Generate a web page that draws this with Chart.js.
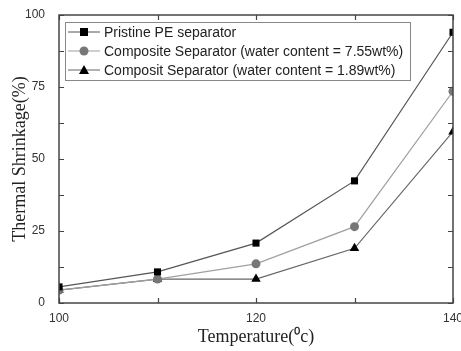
<!DOCTYPE html>
<html>
<head>
<meta charset="utf-8">
<script src="https://cdn.jsdelivr.net/npm/chart.js@4/dist/chart.umd.min.js"></script>
<style>
  html, body { margin: 0; padding: 0; background: #fff; }
  #wrap { width: 461px; height: 351px; }
</style>
</head>
<body>
<div id="wrap"><canvas id="shrink"></canvas></div>
<script>
const temps = [100, 110, 120, 130, 140];
const pristine = [5.6, 10.8, 20.8, 42.4, 94];
const comp755 = [4.5, 8.3, 13.6, 26.5, 73.5];
const comp189 = [4.5, 8.3, 8.3, 19.0, 59.5];
const xTickLabels = [100, 120, 140];
const yTickLabels = [0, 25, 50, 75, 100];

const toPts = arr => arr.map((v, i) => ({ x: temps[i], y: v }));

// ticks pointing into the plot, on all four sides
const innerTicks = {
  id: 'innerTicks',
  afterDraw(chart) {
    const { ctx, chartArea: a, scales: { x, y } } = chart;
    ctx.save();
    ctx.strokeStyle = '#444';
    ctx.lineWidth = 1.2;
    ctx.beginPath();
    temps.forEach(t => {
      const px = Math.round(x.getPixelForValue(t)) + 0.5;
      ctx.moveTo(px, a.bottom); ctx.lineTo(px, a.bottom - 5);
      ctx.moveTo(px, a.top); ctx.lineTo(px, a.top + 5);
    });
    for (let v = 0; v <= 100; v += 12.5) {
      const py = Math.round(y.getPixelForValue(v)) + 0.5;
      ctx.moveTo(a.left, py); ctx.lineTo(a.left + 5, py);
      ctx.moveTo(a.right, py); ctx.lineTo(a.right - 5, py);
    }
    ctx.stroke();
    ctx.lineWidth = 1.5;
    ctx.strokeRect(a.left, a.top, a.right - a.left, a.bottom - a.top);
    ctx.restore();
  }
};

// boxed legend inside the plot with line + marker samples
const boxLegend = {
  id: 'boxLegend',
  afterDraw(chart) {
    const { ctx, chartArea: a } = chart;
    const x0 = a.left + 6, y0 = a.top + 7;
    ctx.save();
    ctx.fillStyle = '#fff';
    ctx.fillRect(x0, y0, 345, 58);
    ctx.strokeStyle = '#888';
    ctx.lineWidth = 1;
    ctx.strokeRect(x0 + 0.5, y0 + 0.5, 345, 58);
    ctx.font = '14px "Liberation Sans", Arial, sans-serif';
    ctx.textBaseline = 'middle';
    chart.data.datasets.forEach((ds, i) => {
      const cy = y0 + 10 + i * 19;
      ctx.strokeStyle = ds.borderColor;
      ctx.lineWidth = 1;
      ctx.beginPath();
      ctx.moveTo(x0 + 3, cy); ctx.lineTo(x0 + 35, cy);
      ctx.stroke();
      ctx.fillStyle = ds.pointBackgroundColor;
      const cx = x0 + 19;
      ctx.beginPath();
      if (ds.pointStyle === 'rect') {
        ctx.rect(cx - 4, cy - 4, 8, 8);
      } else if (ds.pointStyle === 'circle') {
        ctx.arc(cx, cy, 4.5, 0, Math.PI * 2);
      } else {
        ctx.moveTo(cx, cy - 5); ctx.lineTo(cx + 5, cy + 4); ctx.lineTo(cx - 5, cy + 4);
        ctx.closePath();
      }
      ctx.fill();
      ctx.fillStyle = '#222';
      ctx.fillText(ds.label, x0 + 39, cy + 1);
    });
    ctx.restore();
  }
};

new Chart(document.querySelector('#shrink'), {
  type: 'line',
  data: {
    datasets: [
      {
        label: 'Pristine PE separator',
        data: toPts(pristine),
        borderColor: '#555',
        borderWidth: 1.2,
        pointStyle: 'rect',
        pointRadius: 5,
        pointBackgroundColor: '#000',
        pointBorderColor: '#000',
        pointBorderWidth: 0
      },
      {
        label: 'Composite Separator (water content = 7.55wt%)',
        data: toPts(comp755),
        borderColor: '#a0a0a0',
        borderWidth: 1.2,
        pointStyle: 'circle',
        pointRadius: 4.5,
        pointBackgroundColor: '#777',
        pointBorderColor: '#777',
        pointBorderWidth: 0
      },
      {
        label: 'Composit Separator (water content = 1.89wt%)',
        data: toPts(comp189),
        borderColor: '#666',
        borderWidth: 1.2,
        pointStyle: 'triangle',
        pointRadius: 5.5,
        pointBackgroundColor: '#000',
        pointBorderColor: '#000',
        pointBorderWidth: 0
      }
    ]
  },
  options: {
    responsive: true,
    maintainAspectRatio: false,
    animation: false,
    layout: { padding: { left: 0, top: 15, right: 8, bottom: 0 } },
    plugins: {
      legend: { display: false },
      tooltip: { enabled: false }
    },
    scales: {
      x: {
        type: 'linear',
        min: 100,
        max: 140,
        afterBuildTicks: s => { s.ticks = xTickLabels.map(v => ({ value: v })); },
        afterFit: s => { s.height = 48; s.paddingLeft = 0; s.paddingRight = 0; },
        grid: { display: false },
        border: { display: false },
        ticks: {
          color: '#333',
          padding: 0,
          maxRotation: 0,
          font: { family: '"Liberation Sans", Arial, sans-serif', size: 12 }
        },
        title: {
          display: true,
          text: 'Temperature(⁰c)',
          color: '#222',
          padding: { top: 0, bottom: 3 },
          font: { family: '"Liberation Serif", "Times New Roman", serif', size: 18 }
        }
      },
      y: {
        min: 0,
        max: 100,
        afterBuildTicks: s => { s.ticks = yTickLabels.map(v => ({ value: v })); },
        afterFit: s => { s.width = 59; s.paddingTop = 0; s.paddingBottom = 0; },
        grid: { display: false },
        border: { display: false },
        ticks: {
          color: '#333',
          padding: 6,
          font: { family: '"Liberation Sans", Arial, sans-serif', size: 12 }
        },
        title: {
          display: true,
          text: 'Thermal Shrinkage(%)',
          color: '#222',
          padding: { top: 9, bottom: 0 },
          font: { family: '"Liberation Serif", "Times New Roman", serif', size: 18 }
        }
      }
    }
  },
  plugins: [innerTicks, boxLegend]
});
</script>
</body>
</html>
